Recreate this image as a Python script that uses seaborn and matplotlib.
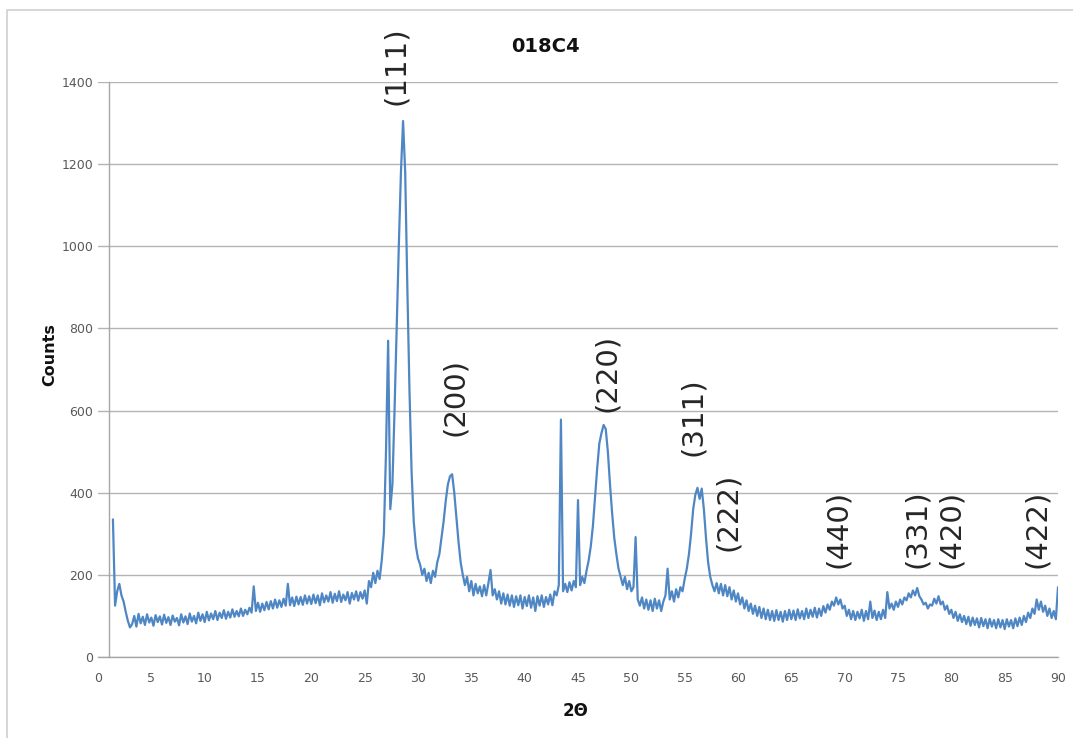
import numpy as np
import matplotlib
matplotlib.use("Agg")
import matplotlib.pyplot as plt
from matplotlib.lines import Line2D
import seaborn as sns

# ---------------- data ----------------
scan_start = 1.4   # first 2-theta value of the scan
scan_step = 0.2    # 2-theta step of the sampled scan

# counts, one row per 2 degrees (10 samples), starting at 1.4
counts = [
    335, 125, 160, 178, 150, 135, 110, 88, 72, 80,
    100, 74, 105, 82, 98, 78, 104, 84, 96, 76,
    102, 85, 99, 79, 103, 83, 97, 78, 101, 86,
    95, 77, 104, 84, 99, 80, 106, 86, 100, 82,
    108, 88, 104, 85, 110, 89, 106, 92, 112, 90,
    108, 95, 114, 93, 110, 96, 116, 98, 112, 99,
    118, 100, 115, 104, 120, 108, 172, 112, 132, 110,
    130, 114, 134, 116, 136, 118, 140, 120, 138, 122,
    142, 125, 178, 126, 145, 124, 147, 128, 146, 127,
    150, 130, 148, 129, 152, 131, 150, 126, 155, 133,
    150, 135, 158, 132, 154, 136, 160, 134, 152, 138,
    158, 130, 156, 140, 160, 137, 158, 142, 162, 130,
    185, 170, 205, 180, 210, 190, 235, 300, 500, 770,
    360, 420, 600, 800, 1000, 1180, 1305, 1180, 900, 650,
    450, 330, 270, 240, 225, 200, 215, 185, 205, 180,
    210, 195, 230, 250, 290, 330, 380, 420, 440, 445,
    400, 340, 280, 230, 200, 175, 195, 160, 185, 150,
    178, 155, 172, 148, 175, 150, 180, 212, 150, 165,
    140, 160, 130, 155, 128, 152, 125, 150, 122, 148,
    126, 150, 118, 146, 124, 150, 120, 145, 112, 148,
    125, 150, 122, 146, 128, 152, 126, 160, 150, 175,
    578, 160, 178, 158, 182, 162, 185, 170, 382, 175,
    195, 180, 210, 235, 270, 320, 390, 460, 520, 545,
    565, 555, 500, 420, 350, 290, 250, 215, 195, 175,
    195, 165, 185, 160, 170, 292, 140, 125, 145, 118,
    140, 115, 138, 112, 142, 118, 138, 112, 135, 150,
    215, 140, 160, 135, 165, 145, 170, 160, 190, 215,
    250, 300, 360, 395, 412, 385, 410, 360, 290, 230,
    195, 175, 160, 180, 155, 178, 150, 175, 148, 170,
    140, 162, 135, 155, 128, 145, 118, 138, 112, 130,
    105, 125, 100, 122, 95, 118, 92, 115, 90, 112,
    88, 114, 90, 110, 86, 112, 90, 115, 92, 113,
    90, 116, 94, 112, 92, 118, 95, 115, 98, 120,
    96, 118, 100, 124, 108, 128, 115, 135, 125, 145,
    128, 140, 118, 125, 100, 115, 92, 112, 90, 110,
    94, 115, 88, 112, 92, 135, 95, 113, 90, 110,
    92, 115, 95, 158, 118, 130, 115, 135, 122, 140,
    128, 145, 138, 155, 145, 162, 150, 168, 148, 140,
    128, 132, 118, 128, 125, 142, 130, 148, 128, 135,
    115, 125, 105, 115, 95, 110, 88, 104, 85, 100,
    80, 98, 76, 96, 78, 94, 72, 95, 75, 92,
    70, 93, 74, 90, 70, 92, 72, 90, 68, 92,
    74, 90, 70, 94, 75, 96, 78, 100, 85, 108,
    95, 118, 105, 140, 115, 135, 110, 125, 100, 118,
    95, 112, 92, 170,
]
two_theta = scan_start + scan_step * np.arange(len(counts))

x_ticks = list(range(0, 91, 5))
y_ticks = list(range(0, 1401, 200))

peak_labels = ["(111)", "(200)", "(220)", "(311)", "(222)",
               "(440)", "(331)", "(420)", "(422)"]
# where each label is centred (2-theta, counts)
peak_label_x = [27.9, 33.5, 47.7, 55.8, 59.1, 69.4, 76.8, 80.0, 88.0]
peak_label_y = [1439, 633, 691, 584, 353, 312, 312, 312, 312]

title = "018C4"
x_label = "2Θ"
y_label = "Counts"

# ---------------- drawing ----------------
sns.set_theme(style="white")
plt.rcParams["font.family"] = ["DejaVu Sans"]

W, H = 1073, 738
fig = plt.figure(figsize=(W / 100, H / 100), dpi=100)
fig.patch.set_facecolor("white")

ax = fig.add_axes([98 / W, 81 / H, 960 / W, 575 / H])
sns.lineplot(x=two_theta, y=counts, ax=ax, color="#4F86C4",
             linewidth=1.6, estimator=None, sort=False)

ax.set_xlim(0, 90)
ax.set_ylim(0, 1400)
ax.set_xticks(x_ticks)
ax.set_yticks(y_ticks)
ax.set_xlabel("")
ax.set_ylabel("")

ax.yaxis.grid(True, color="#b4b4b4", linewidth=1.0)
ax.xaxis.grid(False)
ax.set_axisbelow(True)

for s in ["top", "right"]:
    ax.spines[s].set_visible(False)
ax.spines["left"].set_position(("data", 1.0))
ax.spines["left"].set_color("#a6a6a6")
ax.spines["bottom"].set_color("#a6a6a6")
ax.spines["left"].set_linewidth(1.0)
ax.spines["bottom"].set_linewidth(1.0)

ax.tick_params(axis="y", length=6, width=1.0, color="#a6a6a6",
               direction="out", labelsize=9, labelcolor="#595959", pad=5)
ax.tick_params(axis="x", length=0, labelsize=9, labelcolor="#595959", pad=11)

for lab, lx, ly in zip(peak_labels, peak_label_x, peak_label_y):
    ax.text(lx, ly, lab, rotation=90, ha="center", va="center",
            fontsize=21, color="#262626", clip_on=False)

fig.text(545 / W, 1 - 46 / H, title, ha="center", va="center",
         fontsize=14, fontweight="bold", color="#111111")
fig.text(50 / W, 1 - 355 / H, y_label, rotation=90, ha="center",
         va="center", fontsize=11.5, fontweight="bold", color="#111111")
fig.text(576 / W, 1 - 711 / H, x_label, ha="center", va="center",
         fontsize=12, fontweight="bold", color="#111111")

# outer chart-area frame (left and top edges visible)
fig.add_artist(Line2D([7 / W, 7 / W, 1.0], [0.0, 1 - 10 / H, 1 - 10 / H],
                      transform=fig.transFigure, color="#cfcfcf",
                      linewidth=1.2))

fig.savefig("out.png", dpi=100, facecolor="white")
